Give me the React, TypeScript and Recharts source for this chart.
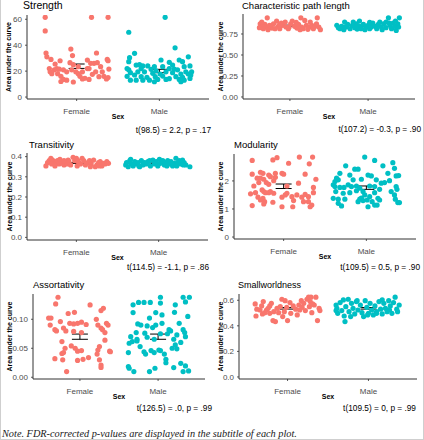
import React from 'react';
import { ScatterChart, Scatter, XAxis, YAxis, ErrorBar } from 'recharts';

const groups = ['Female', 'Male'];
const FEMALE_COLOR = '#F8766D';
const MALE_COLOR = '#00BFC4';

// Each point: [horizontal jitter offset from the group centre, area under the curve]
const strengthFemale = [
  [-0.38, 61.5], [0.18, 61.5], [0.38, 61.5], [-0.38, 51], [-0.37, 34], [-0.36, 31], [-0.31, 29], [-0.07, 37],
  [-0.05, 32], [0.24, 34], [0.37, 29], [0.38, 28], [-0.26, 25.5], [-0.2, 28], [-0.33, 22], [-0.32, 19.5],
  [-0.27, 21], [-0.24, 22], [-0.21, 21.5], [-0.23, 18], [-0.19, 16], [-0.16, 13.6], [-0.19, 12], [-0.12, 13],
  [-0.08, 26.5], [-0.06, 21], [-0.04, 11.6], [-0.04, 25], [-0.01, 19.5], [0.02, 18], [0.04, 16], [0.07, 19.5],
  [0.1, 14.5], [0.13, 22], [0.13, 28.5], [0.15, 22], [0.15, 13.6], [0.19, 17.5], [0.21, 26], [0.23, 19.5],
  [0.25, 26.5], [0.27, 15.7], [0.29, 23.4], [0.31, 19.5], [0.33, 16], [0.36, 14], [0.38, 15], [0.39, 21.6],
  [-0.12, 19.5], [-0.16, 21], [-0.3, 18], [0.07, 14], [0.02, 23.4], [0.17, 26],
];
const strengthMale = [
  [0.07, 61.5], [-0.37, 50], [-0.3, 33.7], [-0.36, 30.4], [-0.37, 27.3], [0.19, 38], [0.35, 31], [0.24, 28.6],
  [0.28, 27.3], [0.12, 26.8], [0.02, 28.6], [-0.28, 24.7], [-0.24, 25], [-0.2, 24], [-0.14, 24], [-0.06, 23.4],
  [0.04, 23.4], [0.12, 22], [0.18, 21.6], [0.3, 23.4], [0.37, 24], [-0.37, 21], [-0.35, 18.8], [-0.3, 17],
  [-0.26, 19.5], [-0.22, 15.7], [-0.18, 19.5], [-0.15, 15.2], [-0.12, 13], [-0.08, 18.3], [-0.05, 15.7],
  [-0.02, 13.6], [0.01, 17.8], [0.04, 16.2], [0.08, 13.6], [0.12, 14.2], [0.16, 18.8], [0.2, 15.7], [0.24, 13.6],
  [0.26, 17.8], [0.28, 15.2], [0.32, 19.5], [0.35, 17.8], [0.37, 14.4], [0.39, 19.5], [-0.35, 13], [-0.28, 13],
  [-0.22, 22], [-0.1, 21.4], [-0.04, 20.3], [0.08, 19.5], [0.22, 21], [0.26, 11.8], [0.38, 17], [-0.39, 22],
  [-0.39, 16], [-0.06, 11.8], [-0.2, 13], [0.3, 13], [0.16, 24.7],
];
const pathLengthFemale = [
  [-0.29, 0.943], [-0.38, 0.872], [-0.35, 0.853], [-0.32, 0.864], [-0.3, 0.833], [-0.34, 0.813], [-0.39, 0.825],
  [-0.26, 0.853], [-0.23, 0.821], [-0.28, 0.801], [-0.17, 0.904], [-0.15, 0.841], [-0.13, 0.813], [-0.09, 0.853],
  [-0.06, 0.892], [-0.05, 0.833], [-0.02, 0.813], [0.01, 0.872], [0.03, 0.904], [0.06, 0.841], [0.09, 0.821],
  [0.11, 0.864], [0.14, 0.943], [0.15, 0.833], [0.17, 0.813], [0.19, 0.912], [0.21, 0.853], [0.25, 0.833],
  [0.28, 0.853], [0.3, 0.813], [0.32, 0.841], [0.35, 0.943], [0.37, 0.833], [0.39, 0.801], [-0.19, 0.813],
  [-0.11, 0.88], [0.08, 0.888], [0.23, 0.805], [0.34, 0.872], [-0.21, 0.872], [0.13, 0.801], [0.26, 0.892],
  [-0.01, 0.833], [-0.36, 0.892], [-0.13, 0.864],
];
const pathLengthMale = [
  [-0.4, 0.853], [-0.38, 0.825], [-0.34, 0.841], [-0.3, 0.892], [-0.28, 0.833], [-0.26, 0.864], [-0.23, 0.813],
  [-0.2, 0.853], [-0.17, 0.825], [-0.15, 0.872], [-0.11, 0.841], [-0.09, 0.813], [-0.06, 0.864], [-0.03, 0.833],
  [0, 0.853], [0.02, 0.813], [0.06, 0.88], [0.09, 0.841], [0.11, 0.813], [0.13, 0.864], [0.15, 0.892],
  [0.17, 0.833], [0.2, 0.872], [0.23, 0.825], [0.26, 0.943], [0.28, 0.853], [0.3, 0.813], [0.32, 0.88],
  [0.34, 0.841], [0.36, 0.793], [0.38, 0.872], [0.4, 0.943], [0.39, 0.833], [-0.36, 0.813], [-0.31, 0.801],
  [-0.19, 0.892], [-0.11, 0.904], [-0.04, 0.801], [0.04, 0.833], [0.18, 0.801], [0.23, 0.892], [0.35, 0.904],
  [-0.3, 0.833], [-0.14, 0.809], [0.02, 0.888], [0.27, 0.88],
];
const transitivityFemale = [
  [-0.37, 0.354], [-0.35, 0.37], [-0.33, 0.38], [-0.31, 0.392], [-0.29, 0.383], [-0.27, 0.375], [-0.25, 0.367],
  [-0.23, 0.38], [-0.21, 0.364], [-0.19, 0.375], [-0.17, 0.367], [-0.15, 0.359], [-0.13, 0.37], [-0.11, 0.364],
  [-0.09, 0.375], [-0.07, 0.359], [-0.04, 0.397], [-0.02, 0.38], [0, 0.392], [0.01, 0.354], [0.03, 0.37],
  [0.05, 0.364], [0.07, 0.392], [0.09, 0.38], [0.11, 0.359], [0.14, 0.37], [0.16, 0.38], [0.18, 0.364],
  [0.21, 0.383], [0.23, 0.35], [0.25, 0.359], [0.27, 0.37], [0.29, 0.375], [0.31, 0.354], [0.33, 0.367],
  [0.35, 0.364], [0.37, 0.375], [0.39, 0.367], [-0.3, 0.364], [-0.2, 0.387], [-0.1, 0.383], [0.02, 0.38],
  [0.17, 0.35], [0.28, 0.354], [-0.26, 0.354], [-0.15, 0.38],
];
const transitivityMale = [
  [-0.4, 0.359], [-0.39, 0.37], [-0.37, 0.35], [-0.35, 0.38], [-0.33, 0.364], [-0.31, 0.354], [-0.29, 0.375],
  [-0.27, 0.364], [-0.25, 0.37], [-0.23, 0.35], [-0.21, 0.38], [-0.19, 0.359], [-0.17, 0.37], [-0.15, 0.364],
  [-0.13, 0.375], [-0.1, 0.354], [-0.07, 0.383], [-0.05, 0.364], [-0.03, 0.375], [-0.01, 0.354], [0.02, 0.367],
  [0.05, 0.38], [0.07, 0.359], [0.09, 0.37], [0.11, 0.38], [0.13, 0.364], [0.15, 0.375], [0.17, 0.354],
  [0.19, 0.367], [0.21, 0.392], [0.23, 0.37], [0.25, 0.38], [0.27, 0.364], [0.29, 0.383], [0.31, 0.37],
  [0.33, 0.359], [0.38, 0.35], [-0.34, 0.387], [-0.24, 0.354], [-0.11, 0.38], [0.01, 0.387], [0.1, 0.354],
  [0.22, 0.354], [0.3, 0.359],
];
const modularityFemale = [
  [-0.38, 2.73], [-0.13, 2.75], [-0.08, 2.83], [0.19, 2.85], [0.35, 2.85], [0.31, 2.61], [0.06, 2.63],
  [-0.38, 2.24], [-0.28, 2.31], [-0.25, 2.27], [-0.32, 2.1], [-0.28, 2.1], [-0.24, 2.06], [-0.18, 2.21],
  [-0.16, 2.15], [-0.1, 2.27], [-0.02, 2.27], [0, 2.24], [-0.1, 2.13], [0.26, 2.24], [0.39, 2.06], [-0.3, 1.94],
  [-0.36, 1.82], [-0.21, 1.94], [-0.18, 1.88], [-0.12, 2.01], [0.18, 1.92], [0.36, 1.77], [-0.26, 1.68],
  [-0.24, 1.62], [-0.22, 1.58], [-0.18, 1.58], [-0.16, 1.62], [-0.12, 1.56], [-0.4, 1.54], [-0.34, 1.58],
  [0.36, 1.58], [-0.31, 1.42], [-0.25, 1.38], [-0.23, 1.26], [-0.28, 1.32], [-0.13, 1.24], [-0.02, 1.42],
  [0.02, 1.5], [0.04, 1.56], [0.1, 1.44], [0.12, 1.3], [0.16, 1.5], [0.22, 1.42], [0.24, 1.26], [0.26, 1.52],
  [0.3, 1.26], [0.3, 1.44], [0.34, 1.14], [-0.38, 1.12], [-0.24, 1.18], [-0.02, 1.08], [0.11, 1.08],
  [0.32, 1.08], [0.04, 1.82],
];
const modularityMale = [
  [-0.25, 2.54], [-0.02, 2.85], [0.1, 2.73], [0.2, 2.54], [0.32, 2.65], [-0.14, 2.42], [-0.1, 2.42], [0.34, 2.45],
  [-0.32, 2.27], [-0.2, 2.21], [0.02, 2.21], [0.06, 2.18], [0.26, 2.27], [0.36, 2.18], [0.39, 2.19], [-0.36, 2.1],
  [-0.38, 1.98], [-0.34, 2.04], [-0.16, 2.04], [-0.06, 2.06], [0.12, 2.04], [0.18, 1.92], [0.22, 1.94],
  [0.28, 2.01], [-0.4, 1.86], [-0.38, 1.8], [-0.32, 1.77], [-0.27, 1.77], [-0.22, 1.86], [-0.18, 1.8],
  [-0.12, 1.82], [-0.08, 1.74], [0.04, 1.82], [0.1, 1.8], [0.16, 1.7], [0.36, 1.8], [0.37, 1.7], [-0.37, 1.62],
  [-0.28, 1.56], [-0.2, 1.58], [-0.12, 1.65], [-0.04, 1.62], [-0.02, 1.5], [0.04, 1.44], [0.1, 1.58],
  [0.14, 1.38], [0.3, 1.62], [0.34, 1.5], [-0.4, 1.38], [-0.34, 1.35], [-0.26, 1.35], [-0.08, 1.35],
  [-0.04, 1.3], [0.01, 1.32], [0.07, 1.26], [0.16, 1.32], [0.35, 1.35], [-0.34, 1.2], [-0.3, 1.11],
  [-0.1, 1.26], [0.02, 1.08], [0.1, 1.14], [0.13, 1.14], [0.38, 1.23], [0.4, 1.23], [-0.06, 1.39],
];
const assortativityFemale = [
  [-0.28, 0.138], [-0.31, 0.1265], [0.13, 0.1248], [0.3, 0.119], [0.27, 0.115], [-0.07, 0.112], [-0.15, 0.11],
  [-0.4, 0.102], [-0.37, 0.102], [-0.25, 0.096], [-0.13, 0.093], [-0.08, 0.092], [-0.03, 0.093], [0.02, 0.095],
  [0.08, 0.091], [0.21, 0.1], [0.23, 0.09], [0.34, 0.093], [0.36, 0.09], [-0.38, 0.09], [-0.32, 0.082],
  [-0.3, 0.08], [-0.21, 0.085], [-0.18, 0.08], [0.27, 0.085], [0.29, 0.082], [0.32, 0.077], [-0.08, 0.079],
  [0.02, 0.077], [-0.23, 0.0615], [0.32, 0.064], [-0.19, 0.05], [-0.11, 0.054], [-0.06, 0.05], [-0.03, 0.045],
  [-0.21, 0.0425], [-0.23, 0.041], [0.02, 0.046], [0.25, 0.053], [0.23, 0.047], [0.22, 0.04], [0.38, 0.045],
  [0.39, 0.044], [-0.32, 0.032], [-0.22, 0.03], [-0.03, 0.029], [0.04, 0.031], [0.11, 0.034], [0.25, 0.03],
  [0.27, 0.021], [0.27, 0.017], [-0.17, 0.0098],
];
const assortativityMale = [
  [0.03, 0.138], [0.32, 0.138], [0.4, 0.138], [0.35, 0.13], [-0.32, 0.125], [-0.25, 0.129], [-0.18, 0.129],
  [-0.1, 0.129], [0.03, 0.128], [0.22, 0.125], [-0.32, 0.1115], [-0.03, 0.1115], [0.21, 0.112], [0.38, 0.105],
  [0.05, 0.1075], [-0.11, 0.102], [-0.26, 0.092], [-0.22, 0.09], [-0.14, 0.0885], [-0.07, 0.0857], [-0.03, 0.09],
  [0.05, 0.093], [0.14, 0.082], [0.16, 0.08], [0.27, 0.093], [0.32, 0.082], [0.34, 0.077], [-0.28, 0.077],
  [-0.17, 0.076], [-0.35, 0.07], [-0.27, 0.0656], [-0.14, 0.069], [-0.05, 0.0656], [0.03, 0.075], [0.12, 0.075],
  [0.24, 0.073], [0.2, 0.0656], [0.29, 0.06], [0.35, 0.07], [-0.37, 0.0587], [-0.33, 0.0615], [-0.27, 0.0627],
  [-0.23, 0.053], [-0.18, 0.044], [-0.16, 0.04], [-0.09, 0.046], [-0.05, 0.0425], [0.01, 0.047], [0.03, 0.046],
  [0.08, 0.04], [0.1, 0.031], [0.1, 0.025], [0.18, 0.05], [0.24, 0.049], [0.22, 0.0558], [-0.38, 0.0425],
  [-0.38, 0.0184], [-0.37, 0.0155], [-0.31, 0.0098], [-0.11, 0.0098], [-0.04, 0.0155], [0.2, 0.0167],
  [0.29, 0.024], [0.32, 0.0098], [0.39, 0.011], [0.35, 0.0196],
];
const smallworldFemale = [
  [-0.4, 0.571], [-0.38, 0.53], [-0.39, 0.477], [-0.34, 0.524], [-0.32, 0.556], [-0.31, 0.493], [-0.3, 0.59],
  [-0.28, 0.503], [-0.26, 0.524], [-0.24, 0.537], [-0.22, 0.556], [-0.2, 0.576], [-0.18, 0.441], [-0.15, 0.433],
  [-0.17, 0.511], [-0.13, 0.537], [-0.11, 0.503], [-0.09, 0.55], [-0.07, 0.608], [-0.06, 0.472], [-0.04, 0.511],
  [-0.01, 0.545], [0, 0.441], [0.03, 0.582], [0.04, 0.498], [0.07, 0.556], [0.1, 0.53], [0.14, 0.563],
  [0.15, 0.524], [0.17, 0.597], [0.18, 0.545], [0.2, 0.576], [0.22, 0.519], [0.24, 0.608], [0.26, 0.624],
  [0.28, 0.59], [0.27, 0.55], [0.3, 0.503], [0.33, 0.563], [0.35, 0.624], [0.37, 0.441], [0.39, 0.537],
  [0.4, 0.519], [0.29, 0.624], [-0.22, 0.498], [0.12, 0.485], [-0.03, 0.597], [0.31, 0.571],
];
const smallworldMale = [
  [-0.4, 0.563], [-0.39, 0.537], [-0.38, 0.498], [-0.35, 0.582], [-0.33, 0.519], [-0.31, 0.603], [-0.3, 0.477],
  [-0.29, 0.433], [-0.28, 0.55], [-0.25, 0.608], [-0.24, 0.511], [-0.21, 0.576], [-0.19, 0.537], [-0.17, 0.493],
  [-0.15, 0.59], [-0.13, 0.524], [-0.1, 0.563], [-0.08, 0.503], [-0.06, 0.472], [-0.04, 0.597], [-0.02, 0.545],
  [0, 0.498], [0.02, 0.576], [0.04, 0.524], [0.06, 0.485], [0.08, 0.556], [0.1, 0.511], [0.13, 0.59],
  [0.15, 0.53], [0.17, 0.493], [0.19, 0.576], [0.21, 0.537], [0.23, 0.511], [0.25, 0.597], [0.27, 0.556],
  [0.29, 0.498], [0.31, 0.582], [0.33, 0.624], [0.35, 0.53], [0.36, 0.511], [0.38, 0.563], [-0.4, 0.519],
  [-0.22, 0.472], [-0.14, 0.597], [-0.01, 0.485], [0.17, 0.603], [0.26, 0.524], [0.1, 0.498],
];

// Group means and standard errors: [mean, SE] for Female, Male
const strengthSummary = [[23.8, 1.7], [20.1, 1.3]];
const pathLengthSummary = [[0.849, 0.006], [0.846, 0.006]];
const transitivitySummary = [[0.368, 0.002], [0.367, 0.002]];
const modularitySummary = [[1.81, 0.08], [1.76, 0.06]];
const assortativitySummary = [[0.07, 0.0045], [0.07, 0.0045]];
const smallworldSummary = [[0.537, 0.006], [0.537, 0.006]];

const titles = ['Strength', 'Characteristic path length', 'Transitivity', 'Modularity', 'Assortativity', 'Smallworldness'];
const subtitles = [
  't(98.5) = 2.2, p = .17',
  't(107.2) = -0.3, p = .90',
  't(114.5) = -1.1, p = .86',
  't(109.5) = 0.5, p = .90',
  't(126.5) = .0, p = .99',
  't(109.5) = 0, p = .99',
];
const yTicks = [
  [0, 20, 40, 60],
  [0, 0.25, 0.5, 0.75],
  [0, 0.1, 0.2, 0.3, 0.4],
  [0, 1, 2],
  [0, 0.05, 0.1],
  [0, 0.2, 0.4, 0.6],
];
const yDecimals = [0, 2, 1, 0, 2, 1];
const yDomains = [
  [-1.5, 63.3],
  [-0.024, 0.988],
  [-0.013, 0.418],
  [-0.07, 2.96],
  [-0.003, 0.1436],
  [-0.016, 0.649],
];
const xLabel = 'Sex';
const yLabel = 'Area under the curve';
const note = 'Note. FDR-corrected p-values are displayed in the subtitle of each plot.';

const seriesData = [
  [strengthFemale, strengthMale, strengthSummary],
  [pathLengthFemale, pathLengthMale, pathLengthSummary],
  [transitivityFemale, transitivityMale, transitivitySummary],
  [modularityFemale, modularityMale, modularitySummary],
  [assortativityFemale, assortativityMale, assortativitySummary],
  [smallworldFemale, smallworldMale, smallworldSummary],
];

// Layout (plot rectangles and text anchors, in page pixels)
const layout = [
  { left: 26, top: 15, right: 208, bottom: 99, titleX: 22, titleY: 8.5, titleSize: 10.5, labelX: 9.5, subX: 210, subY: 133 },
  { left: 242, top: 14, right: 414, bottom: 99, titleX: 241, titleY: 8.5, titleSize: 9.5, labelX: 221.5, subX: 420, subY: 132 },
  { left: 26, top: 153, right: 207, bottom: 240, titleX: 28, titleY: 148, titleSize: 9.5, labelX: 10.5, subX: 208, subY: 270 },
  { left: 233, top: 154, right: 415, bottom: 239, titleX: 233, titleY: 148, titleSize: 9.5, labelX: 221.5, subX: 419, subY: 270 },
  { left: 32, top: 294, right: 204, bottom: 379, titleX: 32, titleY: 288, titleSize: 9.5, labelX: 10.5, subX: 211, subY: 411 },
  { left: 238, top: 294, right: 416, bottom: 379, titleX: 237, titleY: 288, titleSize: 9, labelX: 221.5, subX: 415, subY: 411 },
];

const FONT = '"Liberation Sans", Arial, sans-serif';
const AXIS_COLOR = '#333333';
const TICK_FONT = 8;

const makeDot = (color: string) => (props: any) => (
  <circle cx={props.cx} cy={props.cy} r={2.6} fill={color} stroke="none" />
);
const noShape = () => <g />;

function Panel({ index }: { index: number }) {
  const L = layout[index];
  const [female, male, summary] = seriesData[index] as any;
  const w = L.right - L.left;
  const h = L.bottom - L.top;
  const fData = female.map(([o, v]: number[]) => ({ x: 1 + o, y: v }));
  const mData = male.map(([o, v]: number[]) => ({ x: 2 + o, y: v }));
  const sData = summary.map(([m, se]: number[], i: number) => ({ x: i + 1, y: m, se }));
  const dec = yDecimals[index];
  return (
    <div style={{ position: 'absolute', left: L.left - 30, top: L.top - 5 }}>
      <ScatterChart width={w + 35} height={h + 30} margin={{ top: 5, right: 5, bottom: 0, left: 0 }}>
        <XAxis
          type="number"
          dataKey="x"
          domain={[0.4, 2.6]}
          ticks={[1, 2]}
          interval={0}
          allowDataOverflow
          height={25}
          tickFormatter={(v: number) => groups[Math.round(v) - 1]}
          axisLine={{ stroke: AXIS_COLOR, strokeWidth: 1 }}
          tickLine={{ stroke: AXIS_COLOR, strokeWidth: 0.8 }}
          tickSize={2}
          tickMargin={7.5}
          tick={{ fontSize: TICK_FONT, fill: '#4D4D4D', fontFamily: FONT }}
        />
        <YAxis
          type="number"
          dataKey="y"
          domain={yDomains[index]}
          ticks={yTicks[index]}
          interval={0}
          allowDataOverflow
          width={30}
          tickFormatter={(v: number) => v.toFixed(dec)}
          axisLine={{ stroke: AXIS_COLOR, strokeWidth: 1 }}
          tickLine={{ stroke: AXIS_COLOR, strokeWidth: 0.8 }}
          tickSize={2}
          tickMargin={3}
          tick={{ fontSize: TICK_FONT, fill: '#4D4D4D', fontFamily: FONT }}
        />
        <Scatter data={fData} shape={makeDot(FEMALE_COLOR)} fill={FEMALE_COLOR} isAnimationActive={false} />
        <Scatter data={mData} shape={makeDot(MALE_COLOR)} fill={MALE_COLOR} isAnimationActive={false} />
        <Scatter data={sData} shape={noShape} fill="#000" isAnimationActive={false}>
          <ErrorBar dataKey="se" direction="y" width={8} stroke="#000" strokeWidth={1} isAnimationActive={false} />
        </Scatter>
      </ScatterChart>
    </div>
  );
}

export default function App() {
  return (
    <div
      style={{
        position: 'absolute',
        left: 0,
        top: 0,
        width: 424,
        height: 440,
        background: '#fff',
        boxSizing: 'border-box',
        borderLeft: '1px solid #cfcfcf',
        borderRight: '1px solid #cfcfcf',
        borderBottom: '1px solid #cfcfcf',
        overflow: 'hidden',
      }}
    >
      {layout.map((_, i) => (
        <Panel key={i} index={i} />
      ))}
      <svg width={424} height={440} style={{ position: 'absolute', left: -1, top: 0, pointerEvents: 'none' }}>
        {layout.map((L, i) => {
          const cy = (L.top + L.bottom) / 2;
          const cx = (L.left + L.right) / 2;
          return (
            <g key={i} fontFamily={FONT}>
              <text x={L.titleX + 1} y={L.titleY} fontSize={L.titleSize} fill="#000">
                {titles[i]}
              </text>
              <text
                x={L.labelX + 1}
                y={cy}
                fontSize={7}
                fontWeight="bold"
                fill="#000"
                textAnchor="middle"
                transform={`rotate(-90 ${L.labelX + 1} ${cy})`}
              >
                {yLabel}
              </text>
              <text x={cx + 1} y={L.bottom + 20} fontSize={7} fontWeight="bold" fill="#000" textAnchor="middle">
                {xLabel}
              </text>
              <text x={L.subX + 1} y={L.subY} fontSize={8.3} fill="#000" textAnchor="end">
                {subtitles[i]}
              </text>
            </g>
          );
        })}
        <text
          x={2}
          y={436.5}
          fontSize={10.3}
          fontStyle="italic"
          fontFamily='"Liberation Serif", "DejaVu Serif", serif'
          fill="#1a1a1a"
        >
          {note}
        </text>
      </svg>
    </div>
  );
}
